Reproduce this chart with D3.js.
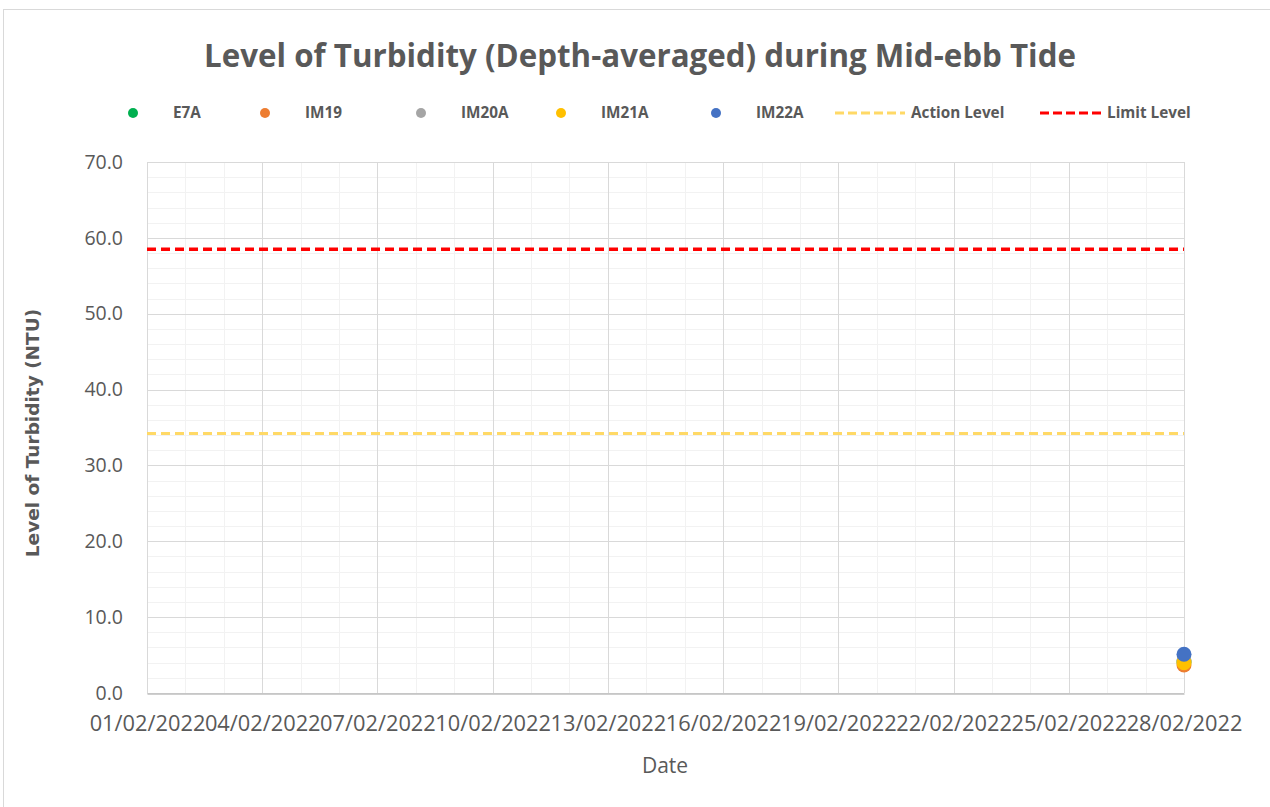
<!DOCTYPE html>
<html>
<head>
<meta charset="utf-8">
<script src="https://cdn.jsdelivr.net/npm/d3@7"></script>
<style>
body { margin: 0; background: #fff; }
text { font-family: "Open Sans", sans-serif; fill: #595959; }
</style>
</head>
<body>
<div id="chart"></div>
<script>
// data
var seriesNames = ["E7A", "IM19", "IM20A", "IM21A", "IM22A"];
var seriesColors = ["#00b050", "#ed7d31", "#a5a5a5", "#ffc000", "#4472c4"];
var sampleDates = ["28/02/2022"];
var e7aValues = [4.1];
var im19Values = [3.7];
var im20aValues = [4.3];
var im21aValues = [4.0];
var im22aValues = [5.1];
var levelDates = ["01/02/2022", "28/02/2022"];
var actionLevel = [34.2, 34.2];
var limitLevel = [58.5, 58.5];
var yTicks = [0, 10, 20, 30, 40, 50, 60, 70];

var parse = d3.timeParse("%d/%m/%Y");
var fmt = d3.timeFormat("%d/%m/%Y");
var seriesValues = [e7aValues, im19Values, im20aValues, im21aValues, im22aValues];

var W = 1270, H = 807;
var margin = {top: 162, right: 86, bottom: 114, left: 147},
    width = W - margin.left - margin.right,
    height = H - margin.top - margin.bottom;

var svg = d3.select("#chart").append("svg")
    .attr("width", W)
    .attr("height", H);

// outer chart border
svg.append("rect")
    .attr("x", 3.5).attr("y", 9.5)
    .attr("width", W).attr("height", H)
    .attr("fill", "none")
    .attr("stroke", "#d9d9d9");

var x = d3.scaleTime()
    .domain([parse(levelDates[0]), parse(levelDates[1])])
    .range([0, width]);

var y = d3.scaleLinear()
    .domain([0, 70])
    .range([height, 0]);

var g = svg.append("g")
    .attr("transform", "translate(" + margin.left + "," + margin.top + ")");

// minor grid
var days = d3.timeDay.range(x.domain()[0], d3.timeDay.offset(x.domain()[1], 1));
g.append("g").selectAll("line")
    .data(days).enter()
    .append("line")
    .attr("x1", function(d) { return Math.round(x(d)) + 0.5 })
    .attr("x2", function(d) { return Math.round(x(d)) + 0.5 })
    .attr("y1", 0).attr("y2", height)
    .style("stroke", "#f2f2f2");

g.append("g").selectAll("line")
    .data(d3.range(0, 71, 2)).enter()
    .append("line")
    .attr("y1", function(d) { return Math.round(y(d)) + 0.5 })
    .attr("y2", function(d) { return Math.round(y(d)) + 0.5 })
    .attr("x1", 0).attr("x2", width)
    .style("stroke", "#f2f2f2");

// major grid
var majorDays = days.filter(function(d, i) { return i % 3 == 0 });
g.append("g").selectAll("line")
    .data(majorDays).enter()
    .append("line")
    .attr("x1", function(d) { return Math.round(x(d)) + 0.5 })
    .attr("x2", function(d) { return Math.round(x(d)) + 0.5 })
    .attr("y1", 0).attr("y2", height)
    .style("stroke", "#d9d9d9");

g.append("g").selectAll("line")
    .data(yTicks).enter()
    .append("line")
    .attr("y1", function(d) { return Math.round(y(d)) + 0.5 })
    .attr("y2", function(d) { return Math.round(y(d)) + 0.5 })
    .attr("x1", 0).attr("x2", width)
    .style("stroke", "#d9d9d9");

// axes
var xAxis = g.append("g")
    .attr("transform", "translate(0," + (Math.round(height) + 0.5) + ")")
    .call(d3.axisBottom(x).tickValues(majorDays).tickFormat(fmt).tickSize(0).tickPadding(22));
xAxis.select(".domain").attr("stroke", "#bfbfbf").attr("stroke-width", 1.5);
xAxis.selectAll("text").style("font-size", "21.8px").attr("fill", "#595959");

var yAxis = g.append("g")
    .call(d3.axisLeft(y).tickValues(yTicks).tickFormat(d3.format(".1f")).tickSize(0).tickPadding(24));
yAxis.select(".domain").attr("stroke", "#d9d9d9");
yAxis.selectAll("text").style("font-size", "19.5px").attr("fill", "#595959");

// level lines
var levelLine = d3.line()
    .x(function(d, i) { return x(parse(levelDates[i])) })
    .y(function(d) { return y(d) });

g.append("path")
    .datum(actionLevel)
    .attr("d", levelLine)
    .attr("fill", "none")
    .style("stroke", "#ffd966")
    .style("stroke-width", 3)
    .style("stroke-dasharray", "9,5");

g.append("path")
    .datum(limitLevel)
    .attr("d", levelLine)
    .attr("fill", "none")
    .style("stroke", "#ff0000")
    .style("stroke-width", 3.5)
    .style("stroke-dasharray", "9,5");

// points
for (var s = 0; s < seriesNames.length; s++) {
    g.append("g").selectAll("circle")
        .data(seriesValues[s]).enter()
        .append("circle")
        .attr("cx", function(d, i) { return x(parse(sampleDates[i])) })
        .attr("cy", function(d) { return y(d) })
        .attr("r", 7.5)
        .style("fill", seriesColors[s]);
}

// title
svg.append("text")
    .attr("x", 640).attr("y", 67)
    .attr("text-anchor", "middle")
    .style("font-size", "31.3px")
    .style("font-weight", "bold")
    .text("Level of Turbidity (Depth-averaged) during Mid-ebb Tide");

// legend
var legendX = [133, 265, 421, 561, 716];
var legend = svg.append("g").attr("transform", "translate(0,113)");
for (var k = 0; k < seriesNames.length; k++) {
    legend.append("circle")
        .attr("cx", legendX[k]).attr("cy", 0).attr("r", 5)
        .style("fill", seriesColors[k]);
    legend.append("text")
        .attr("x", legendX[k] + 40).attr("y", 5)
        .style("font-size", "15.3px").style("font-weight", "bold")
        .text(seriesNames[k]);
}
var lineItems = [{label: "Action Level", color: "#ffd966", x1: 835, x2: 905},
                 {label: "Limit Level", color: "#ff0000", x1: 1040, x2: 1101}];
lineItems.forEach(function(d) {
    legend.append("line")
        .attr("x1", d.x1).attr("x2", d.x2)
        .style("stroke", d.color).style("stroke-width", 3)
        .style("stroke-dasharray", "9,4");
    legend.append("text")
        .attr("x", d.x2 + 6).attr("y", 5)
        .style("font-size", "15.3px").style("font-weight", "bold")
        .text(d.label);
});

// axis titles
svg.append("text")
    .attr("transform", "translate(39,433) rotate(-90)")
    .attr("text-anchor", "middle")
    .style("font-family", "'DejaVu Sans', sans-serif")
    .style("font-size", "18.5px").style("font-weight", "bold")
    .text("Level of Turbidity (NTU)");

svg.append("text")
    .attr("x", 665).attr("y", 773)
    .attr("text-anchor", "middle")
    .style("font-size", "21px")
    .text("Date");
</script>
</body>
</html>
